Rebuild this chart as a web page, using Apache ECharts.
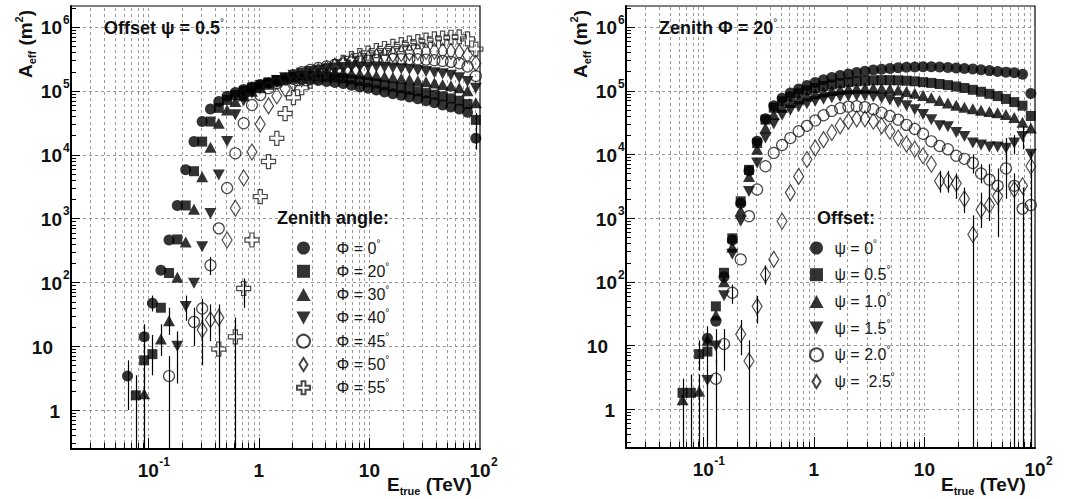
<!DOCTYPE html>
<html><head><meta charset="utf-8">
<script src="https://cdn.jsdelivr.net/npm/echarts@6/dist/echarts.min.js"></script>
<style>html,body{margin:0;padding:0;background:#fff}#c{width:1077px;height:499px}</style>
</head><body><div id="c"></div>
<script>
// ---------- data ----------
const energies = [0.0546,0.0649,0.0772,0.0917,0.109,0.130,0.154,0.183,0.218,0.259,
  0.307,0.365,0.434,0.516,0.613,0.729,0.866,1.029,1.223,1.454,
  1.728,2.054,2.44,2.90,3.45,4.10,4.87,5.79,6.88,8.18,
  9.72,11.55,13.7,16.3,19.4,23.0,27.4,32.5,38.7,45.9,
  54.6,64.9,77.1,91.7];

// left panel: offset 0.5 deg, zenith angles
const zen0 = [null,3.4,null,14,47,155,460,1600,5800,1.6e4,
  3.3e4,5.2e4,6.8e4,8.2e4,9.4e4,1.05e5,1.15e5,1.25e5,1.33e5,1.4e5,
  1.46e5,1.5e5,1.5e5,1.48e5,1.45e5,1.4e5,1.35e5,1.3e5,1.22e5,1.15e5,
  1.1e5,1.03e5,9.6e4,9e4,8.5e4,8e4,7.5e4,7e4,6.5e4,6e4,
  5.6e4,5.2e4,4.6e4,1.8e4];
const zen20 = [null,null,1.7,6,7.5,40,140,470,1600,5500,
  1.6e4,3.3e4,5.4e4,7.2e4,8.6e4,1e5,1.12e5,1.24e5,1.36e5,1.48e5,
  1.58e5,1.65e5,1.7e5,1.72e5,1.7e5,1.67e5,1.62e5,1.57e5,1.5e5,1.43e5,
  1.36e5,1.3e5,1.22e5,1.16e5,1.1e5,1.04e5,9.8e4,9.2e4,8.7e4,8.2e4,
  7.6e4,7e4,6.2e4,3.5e4];
const zen30 = [null,null,null,1.8,null,13,25,120,430,1400,
  4500,1.3e4,3.1e4,5e4,6.8e4,8.4e4,9.8e4,1.12e5,1.27e5,1.42e5,
  1.56e5,1.68e5,1.78e5,1.86e5,1.92e5,1.95e5,1.95e5,1.93e5,1.9e5,1.85e5,
  1.8e5,1.74e5,1.68e5,1.62e5,1.56e5,1.5e5,1.44e5,1.38e5,1.32e5,1.26e5,
  1.2e5,1.12e5,1e5,6.5e4];
const zen40 = [null,null,null,null,null,null,null,10,42,97,
  360,1200,4800,1.6e4,4.2e4,7e4,9.2e4,1.1e5,1.28e5,1.45e5,
  1.6e5,1.75e5,1.88e5,2e5,2.1e5,2.2e5,2.27e5,2.32e5,2.35e5,2.37e5,
  2.37e5,2.35e5,2.32e5,2.28e5,2.22e5,2.15e5,2.08e5,2e5,1.92e5,1.85e5,
  1.75e5,1.6e5,1.4e5,1.1e5];
const zen45 = [null,null,null,null,null,null,3.4,null,null,24,
  39,185,700,3000,1.05e4,3.1e4,6e4,8.6e4,1.1e5,1.33e5,
  1.55e5,1.75e5,1.95e5,2.12e5,2.28e5,2.42e5,2.55e5,2.67e5,2.78e5,2.88e5,
  2.96e5,3.03e5,3.08e5,3.12e5,3.14e5,3.14e5,3.12e5,3.08e5,3.02e5,2.94e5,
  2.84e5,2.7e5,2.4e5,1.7e5];
const zen50 = [null,null,null,null,null,null,null,null,null,null,
  18,26,28,460,1450,4300,1.1e4,3e4,5.8e4,8.3e4,
  1.08e5,1.32e5,1.55e5,1.78e5,2e5,2.22e5,2.44e5,2.65e5,2.85e5,3.05e5,
  3.24e5,3.42e5,3.58e5,3.72e5,3.85e5,3.96e5,4.05e5,4.12e5,4.16e5,4.18e5,
  4.15e5,4e5,3.6e5,2.7e5];
const zen55 = [null,null,null,null,null,null,null,null,null,null,
  null,null,9,null,14,80,460,2200,7800,1.8e4,
  4.4e4,7.8e4,1.12e5,1.42e5,1.72e5,2.05e5,2.4e5,2.8e5,3.2e5,3.55e5,
  3.9e5,4.25e5,4.6e5,4.95e5,5.3e5,5.6e5,5.9e5,6.2e5,6.5e5,6.7e5,
  6.9e5,7e5,6.5e5,4.5e5];
// [bin index, low, high]  (low 0 = down to the axis)
const errLeft = [[1,1.0,6.0],[2,0,3.5],[3,0,3.5],[3,9,22],[3,3,10],[4,3.5,15],[4,35,62],
  [5,7,22],[6,15,40],[7,2.6,17],[8,25,62],[6,0,7],[9,10,40],[10,20,55],[10,5,30],
  [11,12,45],[12,15,45],[12,0,40],[14,0,28],[15,40,115],[11,130,250],
  [43,1.2e4,2.8e4],[43,2.5e4,4.5e4]];

// right panel: zenith 20 deg, offsets
const psi0 = [null,null,null,null,13,24,120,450,1700,5500,
  1.6e4,3.6e4,5.8e4,7.6e4,9.2e4,1.06e5,1.2e5,1.34e5,1.48e5,1.6e5,
  1.72e5,1.83e5,1.93e5,2.02e5,2.1e5,2.17e5,2.23e5,2.28e5,2.32e5,2.35e5,
  2.36e5,2.36e5,2.34e5,2.31e5,2.27e5,2.23e5,2.18e5,2.12e5,2.06e5,2e5,
  1.95e5,1.9e5,1.8e5,9e4];
const psi05 = [null,1.8,1.8,7.3,8,41,138,480,1830,5700,
  1.5e4,3.5e4,5.4e4,6.8e4,8e4,9.1e4,1.01e5,1.1e5,1.18e5,1.25e5,
  1.31e5,1.36e5,1.4e5,1.43e5,1.45e5,1.46e5,1.46e5,1.45e5,1.43e5,1.4e5,
  1.36e5,1.32e5,1.27e5,1.22e5,1.16e5,1.1e5,1.03e5,9.6e4,8.9e4,8.2e4,
  7.4e4,6.6e4,5.8e4,4e4];
const psi10 = [null,1.4,null,1.9,12,30,100,350,1300,4500,
  1.2e4,2.6e4,4.2e4,5.5e4,6.5e4,7.4e4,8.2e4,8.9e4,9.5e4,1e5,
  1.04e5,1.07e5,1.09e5,1.1e5,1.1e5,1.09e5,1.06e5,1.02e5,9.7e4,9.1e4,
  8.4e4,7.7e4,7e4,6.4e4,5.9e4,5.5e4,5.2e4,4.9e4,4.7e4,4.5e4,
  4.2e4,3.8e4,3.2e4,2.6e4];
const psi15 = [null,null,null,null,2.8,9.8,60,270,890,2600,
  7300,1.8e4,3e4,4.1e4,4.9e4,5.6e4,6.2e4,6.8e4,7.3e4,7.7e4,
  8e4,8.2e4,8.3e4,8.2e4,8e4,7.6e4,7.1e4,6.5e4,5.8e4,5e4,
  4.2e4,3.5e4,2.8e4,2.7e4,2.2e4,1.9e4,1.5e4,1.4e4,1.3e4,1.3e4,
  1.25e4,1.5e4,1.9e4,1e4];
const psi20 = [null,null,null,null,null,3,10.5,67,224,1070,
  2800,6500,1.05e4,1.4e4,1.8e4,2.3e4,2.8e4,3.4e4,4.1e4,4.8e4,
  5.3e4,5.6e4,5.7e4,5.5e4,5.1e4,4.5e4,4e4,3.5e4,2.9e4,2.5e4,
  2.1e4,1.6e4,1.35e4,1.2e4,9500,8500,7300,5000,4000,3200,
  6000,3200,1400,1600];
const psi25 = [null,null,null,null,null,null,null,null,15,5.7,
  41,130,224,890,2500,4500,8300,1.25e4,1.7e4,2.2e4,
  2.8e4,3.3e4,3.6e4,3.6e4,3.3e4,2.8e4,2.3e4,1.8e4,1.45e4,1.2e4,
  9500,7000,3800,3800,3500,2000,550,1350,1600,2200,
  null,2800,3200,6500];
const errRight = [[1,0,3],[2,0,3.5],[3,0,3.5],[4,0,5],[5,0,6],[4,8,20],[3,4,12],[4,5,13],
  [5,5,18],[6,4,18],[8,7,25],[9,0,12],[10,22,60],[11,90,180],[7,45,90],
  [36,0,1100],[41,0,5000],[42,0,3000],[43,0,3500],
  [37,700,2500],[38,900,2800],[39,1200,3500],[38,1500,7000],[39,500,6000],[40,2000,1e4],
  [32,2500,5500],[33,2500,5500],[34,2000,5000],[35,1200,3000],[36,5000,1e4],[37,3500,7000],
  [40,8000,1.8e4],[41,1e4,2e4],[43,3500,1.1e4],[42,1.2e4,2.8e4]];

const leftNames  = ['Φ = 0°','Φ = 20°','Φ = 30°','Φ = 40°','Φ = 45°','Φ = 50°','Φ = 55°'];
const rightNames = ['ψ = 0°','ψ = 0.5°','ψ = 1.0°','ψ = 1.5°','ψ = 2.0°','ψ =  2.5°'];

// tick labels
const xTicks = [0.1, 1, 10, 100];
const xTickText = [['10','-1'],['1',''],['10',''],['10','2']];
const yTicks = [1, 10, 100, 1e3, 1e4, 1e5, 1e6];
const yTickText = [['1',''],['10',''],['10','2'],['10','3'],['10','4'],['10','5'],['10','6']];

// ---------- styling ----------
const FONT = '"Liberation Sans", Arial, Helvetica, sans-serif';
const X_MIN = 0.02, X_MAX = 100, Y_MIN = 0.245, Y_MAX = 2.13e6;
const OPEN = {color:'rgba(0,0,0,0)', borderColor:'#1a1a1a', borderWidth:1.2};
const FILL = {color:'#000', borderWidth:0};
const markers = [
  {symbol:'circle', size:11, style:FILL},
  {symbol:'path://M0,0H10V10H0Z', size:10, style:FILL},
  {symbol:'path://M6,0L12,11L0,11Z', size:[12,11], style:FILL},
  {symbol:'path://M0,0L12,0L6,11Z', size:[12,11], style:FILL},
  {symbol:'circle', size:11, style:OPEN},
  {symbol:'path://M5,0L10,8L5,16L0,8Z', size:[10,16], style:OPEN},
  {symbol:'path://M3.5,0H6.5V3.5H10V6.5H6.5V10H3.5V6.5H0V3.5H3.5Z', size:14, style:OPEN}
];
const rightMarkers = [markers[0], markers[1], markers[2], markers[3], markers[4], markers[5]];

function pts(vals){ const o=[]; vals.forEach((v,i)=>{ if(v!=null) o.push([energies[i], v]); }); return o; }

function decor(gi){
  return {
    type:'custom', xAxisIndex:gi, yAxisIndex:gi, data:[[1,1]], z:1, silent:true, clip:false,
    renderItem:function(params, api){
      const ch=[];
      const dash={stroke:'#9a9a9a', lineWidth:1, lineDash:[3,3]};
      const tk={stroke:'#000', lineWidth:1};
      for(let d=-2; d<=2; d++) for(let n=1;n<=9;n++){
        const v=n*Math.pow(10,d);
        if(v<X_MIN*1.001||v>X_MAX*0.999) continue;
        const a=api.coord([v,Y_MIN]), b=api.coord([v,Y_MAX]);
        const x=Math.round(a[0])+0.5;
        ch.push({type:'line',shape:{x1:x,y1:a[1],x2:x,y2:b[1]},style:dash});
        ch.push({type:'line',shape:{x1:x,y1:a[1],x2:x,y2:a[1]-(n===1?11:6)},style:tk});
      }
      for(let d=-1; d<=6; d++) for(let n=1;n<=9;n++){
        const v=n*Math.pow(10,d);
        if(v<Y_MIN||v>Y_MAX) continue;
        const a=api.coord([X_MIN,v]), b=api.coord([X_MAX,v]);
        const y=Math.round(a[1])+0.5;
        if(n===1) ch.push({type:'line',shape:{x1:a[0],y1:y,x2:b[0],y2:y},style:dash});
        ch.push({type:'line',shape:{x1:a[0],y1:y,x2:a[0]+(n===1?9:5),y2:y},style:tk});
      }
      const big='bold 19px '+FONT, small='bold 12px '+FONT;
      xTicks.forEach((v,i)=>{
        const p=api.coord([v,Y_MIN]);
        const t=xTickText[i];
        ch.push({type:'text',x:p[0],y:p[1]+21,style:{text:t[0],font:big,fill:'#111',align:'center',verticalAlign:'middle',textAlign:'center',textVerticalAlign:'middle'}});
        if(t[1]) ch.push({type:'text',x:p[0]+11,y:p[1]+13,style:{text:t[1],font:small,fill:'#111',align:'left',verticalAlign:'middle',textAlign:'left',textVerticalAlign:'middle'}});
      });
      yTicks.forEach((v,i)=>{
        const p=api.coord([X_MIN,v]);
        const t=yTickText[i];
        let xr = t[1] ? p[0]-9 : (t[0]==='10' ? p[0]-18 : p[0]-11);
        ch.push({type:'text',x:xr,y:p[1]+1,style:{text:t[0],font:big,fill:'#111',align:'right',verticalAlign:'middle',textAlign:'right',textVerticalAlign:'middle'}});
        if(t[1]) ch.push({type:'text',x:xr+1,y:p[1]-7,style:{text:t[1],font:small,fill:'#111',align:'left',verticalAlign:'middle',textAlign:'left',textVerticalAlign:'middle'}});
      });
      return {type:'group', children:ch};
    }
  };
}

function errSeries(gi, list){
  return {
    type:'custom', xAxisIndex:gi, yAxisIndex:gi, z:2, silent:true, clip:true,
    data: list.map(e=>[energies[e[0]], e[1]>0?e[1]:Y_MIN, e[2]]),
    renderItem:function(params, api){
      const a=api.coord([api.value(0), Math.max(api.value(1),Y_MIN)]);
      const b=api.coord([api.value(0), api.value(2)]);
      const x=Math.round(a[0])+0.5;
      return {type:'line', shape:{x1:x,y1:a[1],x2:x,y2:b[1]}, style:{stroke:'#000', lineWidth:1.2}};
    }
  };
}

function scatter(gi, name, vals, m, z){
  return {type:'scatter', name, xAxisIndex:gi, yAxisIndex:gi, data:pts(vals), symbol:m.symbol, symbolSize:m.size,
    symbolKeepAspect:false, itemStyle:m.style, z, clip:false, silent:true, emphasis:{disabled:true}};
}

const leftVals = [zen0, zen20, zen30, zen40, zen45, zen50, zen55];
const rightVals = [psi0, psi05, psi10, psi15, psi20, psi25];

const series = [decor(0), decor(1), errSeries(0, errLeft), errSeries(1, errRight)];
leftVals.forEach((v,i)=>series.push(scatter(0, leftNames[i], v, markers[i], 3+i)));
rightVals.forEach((v,i)=>series.push(scatter(1, rightNames[i], v, rightMarkers[i], 3+i)));

function axisX(gi){ return {type:'log', logBase:10, gridIndex:gi, min:X_MIN, max:X_MAX,
  axisLine:{show:true, onZero:false, lineStyle:{color:'#000', width:2}}, axisTick:{show:false}, axisLabel:{show:false}, splitLine:{show:false}}; }
function axisY(gi){ return {type:'log', logBase:10, gridIndex:gi, min:Y_MIN, max:Y_MAX,
  axisLine:{show:true, onZero:false, lineStyle:{color:'#000', width:2}}, axisTick:{show:false}, axisLabel:{show:false}, splitLine:{show:false}}; }

const legendText = {fontFamily:FONT, fontSize:16, color:'#1a1a1a', lineHeight:20,
  rich:{n:{fontFamily:FONT, fontSize:16, color:'#1a1a1a', lineHeight:20}, d:{fontFamily:FONT, fontSize:10, color:'#1a1a1a', verticalAlign:'top', lineHeight:12}}};
const legFmt = name => '{n|'+name.slice(0,-1)+'}{d|°}';

const richTitle = {
  b:{fontFamily:FONT, fontWeight:'bold', fontSize:19, fill:'#111', lineHeight:24},
  s:{fontFamily:FONT, fontWeight:'bold', fontSize:11, fill:'#111', verticalAlign:'bottom', lineHeight:12},
  p:{fontFamily:FONT, fontWeight:'bold', fontSize:11, fill:'#111', verticalAlign:'top', lineHeight:12},
  t:{fontFamily:FONT, fontWeight:'bold', fontSize:18, fill:'#111', lineHeight:22},
  d:{fontFamily:FONT, fontWeight:'normal', fontSize:10, fill:'#111', verticalAlign:'top', lineHeight:12}
};
function gtext(x, y, text, opts){
  return Object.assign({type:'text', x, y, silent:true, z:100,
    style:{text, rich:richTitle, align:'left', verticalAlign:'middle', textAlign:'left', textVerticalAlign:'middle'}}, opts||{});
}
const yTitle = '{b|A}{s|eff}{b| (m}{p|2}{b|)}';
const xTitle = '{b|E}{s|true}{b| (TeV)}';

const option = {
  animation:false, backgroundColor:'#fff',
  grid:[
    {left:71, top:6, width:409, height:443, show:true, borderColor:'#000', borderWidth:1.2, backgroundColor:'transparent'},
    {left:626, top:6, width:409, height:442, show:true, borderColor:'#000', borderWidth:1.2, backgroundColor:'transparent'}
  ],
  xAxis:[axisX(0), axisX(1)],
  yAxis:[axisY(0), axisY(1)],
  legend:[
    {data:leftNames, orient:'vertical', left:291, top:233, itemWidth:56, itemHeight:13, itemGap:3.3,
      symbolKeepAspect:true, selectedMode:false, textStyle:legendText, formatter:legFmt},
    {data:rightNames, orient:'vertical', left:804, top:233, itemWidth:26, itemHeight:13, itemGap:6.7,
      symbolKeepAspect:true, selectedMode:false, textStyle:legendText, formatter:legFmt}
  ],
  graphic:[
    gtext(104, 28, '{t|Offset ψ = 0.5}{d|°}'),
    gtext(659, 28, '{t|Zenith Φ = 20}{d|°}'),
    gtext(277, 218, '{t|Zenith angle:}'),
    gtext(817, 218, '{t|Offset:}'),
    gtext(387, 484, xTitle),
    gtext(941, 484, xTitle),
    gtext(25, 44, yTitle, {rotation:Math.PI/2, style:{text:yTitle, rich:richTitle, align:'center', verticalAlign:'middle', textAlign:'center', textVerticalAlign:'middle'}}),
    gtext(580, 44, yTitle, {rotation:Math.PI/2, style:{text:yTitle, rich:richTitle, align:'center', verticalAlign:'middle', textAlign:'center', textVerticalAlign:'middle'}})
  ],
  series
};

const chart = echarts.init(document.getElementById('c'), null, {renderer:'svg'});
chart.setOption(option);
</script>
</body></html>
